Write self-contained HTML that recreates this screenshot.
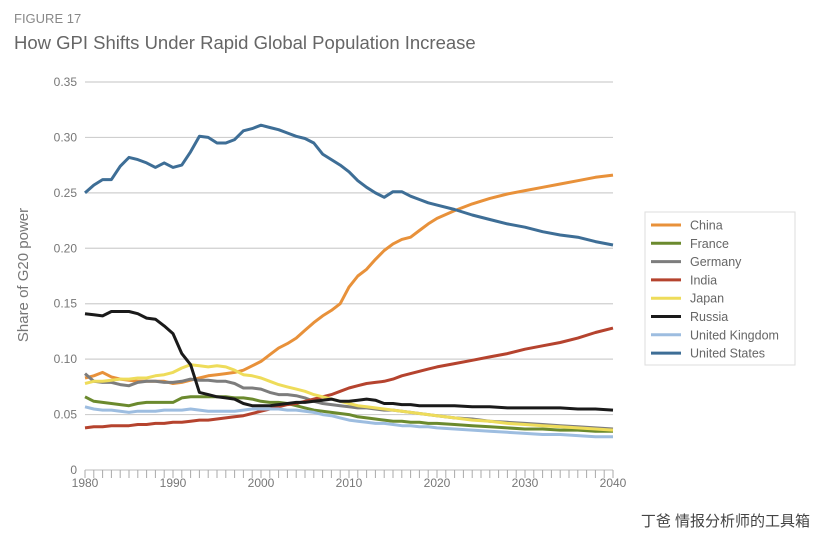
<!DOCTYPE html>
<html><head><meta charset="utf-8"><style>
body{margin:0;background:#fff;width:828px;height:553px;overflow:hidden;font-family:"Liberation Sans","Noto Sans CJK SC",sans-serif}
</style></head><body>
<svg id="c" width="828" height="553" xmlns="http://www.w3.org/2000/svg">
<text x="14" y="23" font-size="13" fill="#888">FIGURE 17</text>
<text x="14" y="49" font-size="18.5" fill="#666">How GPI Shifts Under Rapid Global Population Increase</text>
<text transform="translate(28,275) rotate(-90)" text-anchor="middle" font-size="15" fill="#777">Share of G20 power</text>
<g id="grid"></g><g id="lines"></g><g id="legend"></g>
<text x="810" y="526" text-anchor="end" font-size="15" fill="#444">丁爸 情报分析师的工具箱</text>
</svg>
<script>
const years=[];for(let y=1980;y<=2020;y++)years.push(y);for(let y=2022;y<=2040;y+=2)years.push(y);
const yTicks=[0,0.05,0.10,0.15,0.20,0.25,0.30,0.35];
const yTickLabels=["0","0.05","0.10","0.15","0.20","0.25","0.30","0.35"];
const xTicks=[1980,1990,2000,2010,2020,2030,2040];
const seriesNames=["China","France","Germany","India","Japan","Russia","United Kingdom","United States"];
const china=[.083,.085,.088,.084,.082,.081,.080,.080,.080,.080,.078,.079,.081,.083,.085,.086,.087,.088,.090,.094,.098,.104,.110,.114,.119,.126,.133,.139,.144,.150,.165,.175,.181,.190,.198,.204,.208,.210,.216,.222,.227,.234,.240,.245,.249,.252,.255,.258,.261,.264,.266];
const france=[.066,.062,.061,.060,.059,.058,.060,.061,.061,.061,.061,.065,.066,.066,.066,.066,.066,.065,.065,.064,.062,.061,.061,.060,.058,.056,.054,.053,.052,.051,.050,.048,.047,.046,.045,.044,.044,.043,.043,.042,.042,.041,.040,.039,.038,.037,.037,.036,.036,.035,.035];
const germany=[.087,.080,.079,.079,.077,.076,.079,.080,.080,.079,.079,.080,.082,.081,.081,.080,.080,.078,.074,.074,.073,.070,.068,.068,.067,.065,.062,.060,.059,.058,.057,.056,.056,.055,.054,.054,.053,.052,.051,.050,.049,.047,.046,.044,.043,.042,.041,.040,.039,.038,.037];
const india=[.038,.039,.039,.040,.040,.040,.041,.041,.042,.042,.043,.043,.044,.045,.045,.046,.047,.048,.049,.051,.053,.055,.057,.059,.060,.062,.064,.066,.068,.071,.074,.076,.078,.079,.080,.082,.085,.087,.089,.091,.093,.096,.099,.102,.105,.109,.112,.115,.119,.124,.128];
const japan=[.078,.080,.080,.081,.082,.082,.083,.083,.085,.086,.088,.092,.095,.094,.093,.094,.093,.090,.086,.085,.083,.080,.077,.075,.073,.071,.068,.066,.064,.062,.060,.058,.057,.056,.055,.054,.053,.052,.051,.050,.049,.047,.045,.044,.042,.041,.040,.039,.038,.037,.036];
const russia=[.141,.140,.139,.143,.143,.143,.141,.137,.136,.130,.123,.105,.095,.070,.068,.066,.065,.064,.060,.058,.058,.058,.059,.060,.061,.061,.062,.063,.064,.062,.062,.063,.064,.063,.060,.060,.059,.059,.058,.058,.058,.058,.057,.057,.056,.056,.056,.056,.055,.055,.054];
const uk=[.057,.055,.054,.054,.053,.052,.053,.053,.053,.054,.054,.054,.055,.054,.053,.053,.053,.053,.054,.055,.055,.055,.055,.054,.054,.053,.052,.050,.049,.047,.045,.044,.043,.042,.042,.041,.040,.040,.039,.039,.038,.037,.036,.035,.034,.033,.032,.032,.031,.030,.030];
const us=[.250,.257,.262,.262,.274,.282,.280,.277,.273,.277,.273,.275,.287,.301,.300,.295,.295,.298,.306,.308,.311,.309,.307,.304,.301,.299,.295,.285,.280,.275,.269,.261,.255,.250,.246,.251,.251,.247,.244,.241,.239,.235,.230,.226,.222,.219,.215,.212,.210,.206,.203];
const allSeries=[china,france,germany,india,japan,russia,uk,us];
const colors=["#e8913a","#6b8a2e","#7d7d7d","#b5432e","#eedc5a","#1a1a1a","#9dbde0","#3e6e96"];
const NS="http://www.w3.org/2000/svg";
const X0=85,X1=613,Y0=470,Y1=82;
const xs=v=>X0+(v-1980)/60*(X1-X0);
const ys=v=>Y0-v/0.35*(Y0-Y1);
function mk(t,a,p){const e=document.createElementNS(NS,t);for(const k in a)e.setAttribute(k,a[k]);p.appendChild(e);return e;}
const grid=document.getElementById('grid');
yTicks.forEach((v,i)=>{
 if(i>0){const l=mk('line',{x1:X0,x2:X1,y1:ys(v),y2:ys(v),stroke:'#cfcfcf','stroke-width':1.2},grid);
 
 }
 const t=mk('text',{x:77,y:ys(v)+4,'text-anchor':'end','font-size':12,fill:'#777'},grid);t.textContent=yTickLabels[i];
 
 
});
const ax=mk('line',{x1:X0,x2:X1,y1:Y0,y2:Y0,stroke:'#bbb','stroke-width':1},grid);


for(let y=1980;y<=2040;y++){const tk=mk('line',{x1:xs(y),x2:xs(y),y1:Y0,y2:Y0+8,stroke:'#aaa','stroke-width':1},grid);
 
 }
xTicks.forEach(v=>{const t=mk('text',{x:xs(v),y:487,'text-anchor':'middle','font-size':12,fill:'#777'},grid);t.textContent=v;
 
 });
const lines=document.getElementById('lines');
allSeries.forEach((s,i)=>{
 const d=s.map((v,j)=>(j?'L':'M')+xs(years[j]).toFixed(1)+','+ys(v).toFixed(1)).join('');
 const p=mk('path',{d:d,fill:'none',stroke:colors[i],'stroke-width':3,'stroke-linejoin':'round'},lines);
 
 
});
const lg=document.getElementById('legend');
const box=mk('rect',{x:645,y:212,width:150,height:153,fill:'#fff',stroke:'#ddd'},lg);


seriesNames.forEach((n,i)=>{
 const y=225+i*18.3;
 const l=mk('line',{x1:651,x2:681,y1:y,y2:y,stroke:colors[i],'stroke-width':3},lg);
 
 
 const t=mk('text',{x:690,y:y+4.5,'font-size':12.5,fill:'#666'},lg);t.textContent=n;
 
 
});
</script>
</body></html>
